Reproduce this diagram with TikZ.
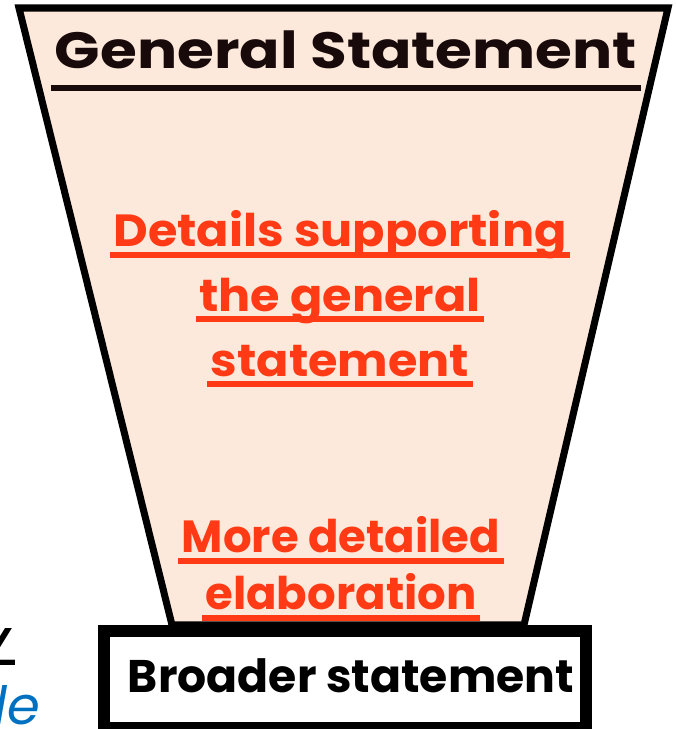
\documentclass[tikz,border=0pt]{standalone}
\usepackage{fontspec}
\setmainfont{Poppins}
\usetikzlibrary{positioning}

\definecolor{peach}{RGB}{253,233,219}
\definecolor{redtext}{RGB}{255,58,20}
\definecolor{darktext}{RGB}{24,10,10}
\definecolor{bluetext}{RGB}{0,112,192}

% underline with own depth and thickness
\newcommand{\barunder}[3]{\setbox0=\hbox{#3}\leavevmode\rlap{\kern-1pt\rule[-#1]{\dimexpr\wd0+2pt\relax}{#2}}\box0}

\begin{document}
\begin{tikzpicture}[x=0.01cm, y=-0.01cm,
  funnel/.style={draw=black, line width=2pt, fill=peach, line join=miter},
  basebox/.style={draw=black, line width=3.4pt, fill=white, minimum width=4.82cm, minimum height=0.97cm, inner sep=0pt},
  redlines/.style={text=redtext, align=center, inner sep=0pt}]
  \useasboundingbox (0,0) rectangle (676,729);

  % Funnel and base
  \draw[funnel] (19,8) -- (668,8) -- (524,625) -- (172,625) -- cycle;
  \node[basebox] (box) at (345,679.5) {};

  % Nodes
  \node[anchor=base, inner sep=0pt, text=darktext, font=\bfseries\fontsize{14.5}{17}\selectfont] (general) at (346,68) {\scalebox{1.17}[1]{\barunder{6.5pt}{1.8pt}{General Statement}}};
  \node[redlines, anchor=north, font=\bfseries\fontsize{12.8}{18.4}\selectfont] (details) at (340,210) {\scalebox{1.06}[1]{\barunder{3.1pt}{1.7pt}{Details supporting}}\\\scalebox{1.06}[1]{\barunder{3.1pt}{1.7pt}{the general}}\\\scalebox{1.06}[1]{\barunder{3.1pt}{1.7pt}{statement}}};
  \node[redlines, anchor=north, font=\bfseries\fontsize{12.8}{16.2}\selectfont] (more) at (341,516) {\barunder{3.1pt}{1.6pt}{More detailed}\\\barunder{3.1pt}{1.6pt}{elaboration}};
  \node[anchor=base, inner sep=0pt, font=\bfseries\fontsize{13}{16}\selectfont] (broad) at (351,692) {Broader statement};

  % cut-off text at the left
  \begin{scope}
    \clip (0,628) rectangle (60,729);
    \node[anchor=base east, inner sep=0pt, font=\fontsize{19}{19}\selectfont] (cutz) at (19,665) {Z};
  \end{scope}
  \node[anchor=base east, inner sep=0pt, text=bluetext, font=\itshape\fontsize{15}{15}\selectfont] (cutle) at (41,724) {le};
\end{tikzpicture}
\end{document}
